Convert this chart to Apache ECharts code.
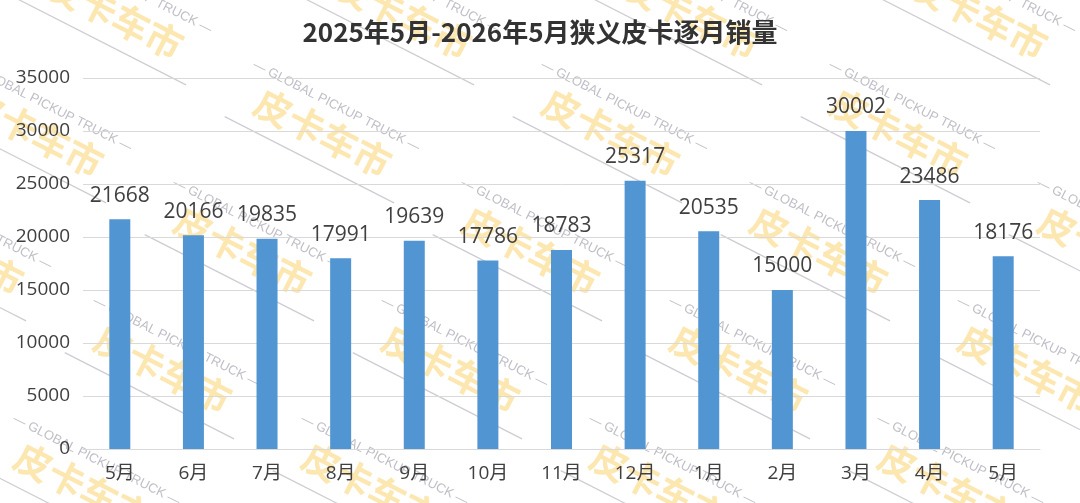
<!DOCTYPE html>
<html>
<head>
<meta charset="utf-8">
<script src="https://cdn.jsdelivr.net/npm/echarts@6/dist/echarts.min.js"></script>
<style>
  html, body { margin: 0; padding: 0; background: #fff; }
  #chart { width: 1080px; height: 503px; }
</style>
</head>
<body>
<div id="chart"></div>
<script>
// Monthly sales, May 2025 - May 2026
const months = ['5月', '6月', '7月', '8月', '9月', '10月', '11月', '12月', '1月', '2月', '3月', '4月', '5月'];
const sales = [21668, 20166, 19835, 17991, 19639, 17786, 18783, 25317, 20535, 15000, 30002, 23486, 18176];
const yTicks = [0, 5000, 10000, 15000, 20000, 25000, 30000, 35000];

const font = '"Open Sans", "Noto Sans CJK SC", sans-serif';
const chart = echarts.init(document.getElementById('chart'));

// Watermark tiles laid out on a slanted lattice
const marks = [];
const angle = -27 * Math.PI / 180;
for (let row = 0; row < 5; row++) {
  for (let col = -1; col < 6; col++) {
    const x = 115 + col * 288 - row * 80;
    const y = 15 + row * 118;
    if (x < -150 || x > 1230) continue;
    marks.push({
      type: 'group',
      x: x,
      y: y,
      rotation: angle,
      silent: true,
      z: 100,
      children: [
        {
          type: 'text',
          style: {
            text: '皮卡车市', x: 0, y: 0, align: 'center', verticalAlign: 'middle',
            font: 'bold 37px "Noto Sans CJK SC"', fill: 'rgba(250,198,70,0.42)'
          }
        },
        {
          type: 'text',
          style: {
            text: '— GLOBAL PICKUP TRUCK —', x: 0, y: -30, align: 'center', verticalAlign: 'middle',
            font: '13px "Liberation Sans"', fill: 'rgba(110,110,130,0.45)'
          }
        },
        {
          type: 'line',
          shape: { x1: -95, y1: 30, x2: 95, y2: 30 },
          style: { stroke: 'rgba(110,110,130,0.35)', lineWidth: 1.2 }
        }
      ]
    });
  }
}

chart.setOption({
  animation: false,
  backgroundColor: '#fff',
  title: {
    text: '2025年5月-2026年5月狭义皮卡逐月销量',
    left: 'center',
    top: 14,
    textStyle: { fontFamily: '"Noto Sans CJK SC", sans-serif', fontSize: 26, fontWeight: 'bold', color: '#333' }
  },
  grid: { left: 83, right: 40, top: 78, bottom: 54 },
  xAxis: {
    type: 'category',
    data: months,
    axisTick: { show: false },
    axisLine: { lineStyle: { color: '#d9d9d9' } },
    axisLabel: { fontFamily: font, fontSize: 19, color: '#404040', margin: 15 }
  },
  yAxis: {
    type: 'value',
    min: yTicks[0],
    max: yTicks[yTicks.length - 1],
    interval: 5000,
    axisLine: { show: false },
    axisTick: { show: false },
    splitLine: { lineStyle: { color: '#d9d9d9' } },
    axisLabel: { fontFamily: font, fontSize: 19, color: '#404040', margin: 13, formatter: v => String(v) }
  },
  graphic: marks,
  series: [{
    type: 'bar',
    data: sales,
    barWidth: 21,
    itemStyle: { color: '#5195d3' },
    label: {
      show: true,
      position: 'top',
      distance: 13,
      fontFamily: font,
      fontSize: 21,
      color: '#404040'
    }
  }]
});
</script>
</body>
</html>
